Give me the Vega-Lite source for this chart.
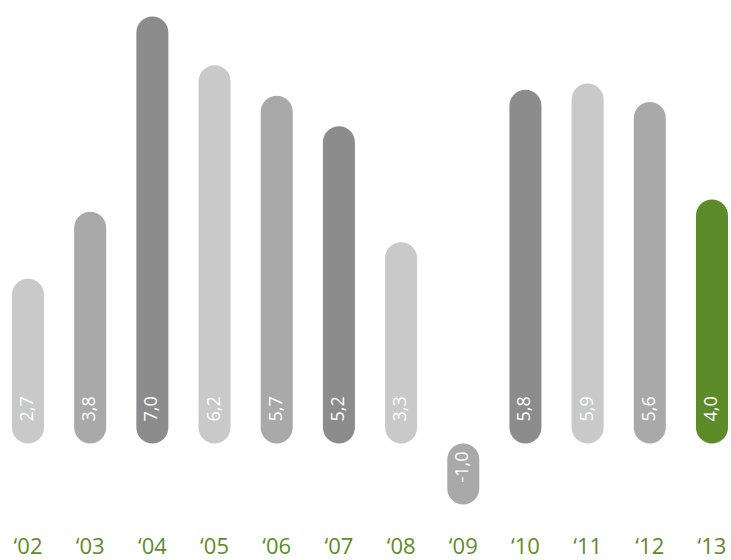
{
  "$schema": "https://vega.github.io/schema/vega-lite/v6.json",
  "width": 716,
  "height": 530,
  "padding": {"left": 12, "right": 3, "top": 0, "bottom": 30},
  "autosize": {"type": "none"},
  "background": "white",
  "config": {
    "view": {"stroke": null},
    "font": "Open Sans",
    "locale": {
      "number": {"decimal": ",", "thousands": ".", "grouping": [3], "currency": ["", " €"], "minus": "-"}
    }
  },
  "data": {
    "values": [
      {"year": "‘02", "value": 2.7},
      {"year": "‘03", "value": 3.8},
      {"year": "‘04", "value": 7.0},
      {"year": "‘05", "value": 6.2},
      {"year": "‘06", "value": 5.7},
      {"year": "‘07", "value": 5.2},
      {"year": "‘08", "value": 3.3},
      {"year": "‘09", "value": -1.0},
      {"year": "‘10", "value": 5.8},
      {"year": "‘11", "value": 5.9},
      {"year": "‘12", "value": 5.6},
      {"year": "‘13", "value": 4.0}
    ]
  },
  "transform": [{"calculate": "min(datum.value, 0)", "as": "low"}],
  "encoding": {
    "x": {
      "field": "year",
      "type": "nominal",
      "sort": null,
      "scale": {"paddingInner": 0.485, "paddingOuter": 0},
      "axis": {
        "title": null,
        "domain": false,
        "ticks": false,
        "labelAngle": 0,
        "labelFontSize": 22,
        "labelColor": "#5e8b2a",
        "labelPadding": 6
      }
    }
  },
  "layer": [
    {
      "mark": {"type": "bar", "cornerRadius": 16},
      "encoding": {
        "y": {
          "field": "value",
          "type": "quantitative",
          "scale": {"domain": [-1.418, 7.2705], "nice": false, "zero": false},
          "axis": null
        },
        "y2": {"datum": 0},
        "color": {
          "field": "year",
          "type": "nominal",
          "sort": null,
          "legend": null,
          "scale": {
            "range": ["#c8c9c8", "#a8a9a8", "#8b8c8b", "#c8c9c8", "#a8a9a8", "#8b8c8b",
                      "#c8c9c8", "#a8a9a8", "#8b8c8b", "#c8c9c8", "#a8a9a8", "#5e8b2a"]
          }
        }
      }
    },
    {
      "mark": {"type": "text", "angle": 270, "align": "left", "baseline": "middle", "dx": 22, "fontSize": 18, "color": "white"},
      "encoding": {
        "y": {"field": "low", "type": "quantitative", "scale": {"domain": [-1.418, 7.2705], "nice": false, "zero": false}},
        "text": {"field": "value", "type": "quantitative", "format": ".1f"}
      }
    }
  ]
}
